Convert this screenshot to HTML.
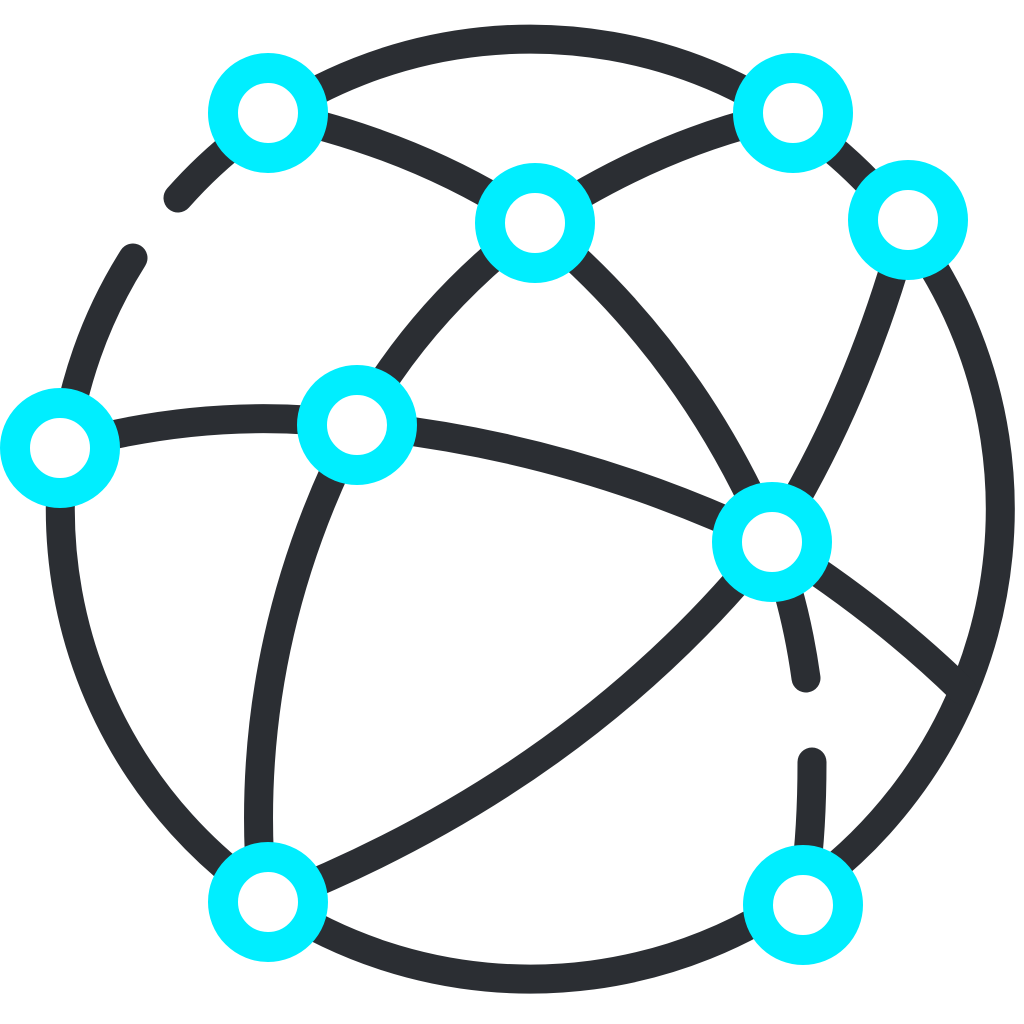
<!DOCTYPE html>
<html><head><meta charset="utf-8"><style>html,body{margin:0;padding:0;background:#fff}svg{display:block}</style></head>
<body>
<svg width="1024" height="1024" viewBox="0 0 1024 1024" xmlns="http://www.w3.org/2000/svg">
<g fill="none" stroke="#2B2E33" stroke-width="29" stroke-linecap="round">
  <path d="M178,198 A470,470 0 1 1 133,258"/>
  <path d="M268,113 Q420,145 535,223"/>
  <path d="M535,223 Q660,140 793,113"/>
  <path d="M535,223 Q420,310 357,425 Q240,650 262,895"/>
  <path d="M60,448 Q210,405 357,425"/>
  <path d="M357,425 Q570,445 771,541"/>
  <path d="M771,541 Q880,610 962,690"/>
  <path d="M535,223 Q690,350 771,541 Q795,600 806,678"/>
  <path d="M908,220 Q860,400 771,541"/>
  <path d="M771,541 Q580,780 268,902"/>
  <path d="M812,762 Q812,830 805,880"/>
</g>
<g fill="#fff" stroke="#00EEFF" stroke-width="30">
  <circle cx="268" cy="113" r="45"/>
  <circle cx="793" cy="113" r="45"/>
  <circle cx="535" cy="223" r="45"/>
  <circle cx="908" cy="220" r="45"/>
  <circle cx="60" cy="448" r="45"/>
  <circle cx="357" cy="425" r="45"/>
  <circle cx="772" cy="542" r="45"/>
  <circle cx="268" cy="902" r="45"/>
  <circle cx="803" cy="905" r="45"/>
</g>
</svg>
</body></html>
